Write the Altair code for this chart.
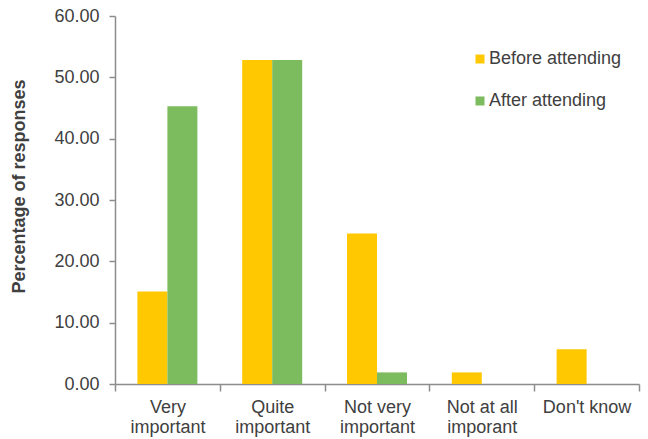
import altair as alt
import pandas as pd

categories = ["Very|important", "Quite|important", "Not very|important", "Not at all|imporant", "Don't know"]
series = ["Before attending", "After attending"]
before = [15.09, 52.83, 24.53, 1.89, 5.66]
after = [45.28, 52.83, 1.89, 0.0, 0.0]
colors = ["#FFC800", "#7CBB5E"]
y_ticks = [0, 10, 20, 30, 40, 50, 60]

rows = []
for c, b, a in zip(categories, before, after):
    rows.append({"category": c, "series": series[0], "value": b})
    rows.append({"category": c, "series": series[1], "value": a})
df = pd.DataFrame(rows)

FONT = "Liberation Sans"
TXT = "#404040"
AX = "#8C8C8C"
FS = 18

chart = alt.Chart(df).mark_bar().encode(
    x=alt.X(
        "category:N",
        sort=categories,
        scale=alt.Scale(paddingInner=0, paddingOuter=0),
        axis=alt.Axis(
            title=None,
            labelAngle=0,
            labelExpr="split(datum.label, '|')",
            labelFont=FONT,
            labelFontSize=FS,
            labelColor=TXT,
            labelBaseline="top",
            labelLineHeight=20,
            labelPadding=7,
            tickBand="extent",
            tickSize=7,
            tickColor=AX,
            domainColor=AX,
            domainWidth=1.5,
            tickWidth=1.5,
        ),
    ),
    xOffset=alt.XOffset(
        "series:N",
        sort=series,
        scale=alt.Scale(paddingInner=0, paddingOuter=0.747),
    ),
    y=alt.Y(
        "value:Q",
        scale=alt.Scale(domain=[0, 60], nice=False),
        axis=alt.Axis(
            values=y_ticks,
            format=".2f",
            grid=False,
            title="Percentage of responses",
            titleFont=FONT,
            titleFontSize=FS,
            titleFontWeight="bold",
            titleColor=TXT,
            titlePadding=25,
            titleY=170,
            labelFont=FONT,
            labelFontSize=FS,
            labelColor=TXT,
            labelPadding=10,
            tickSize=6,
            tickColor=AX,
            domainColor=AX,
            domainWidth=1.5,
            tickWidth=1.5,
        ),
    ),
    color=alt.Color(
        "series:N",
        sort=series,
        scale=alt.Scale(domain=series, range=colors),
        legend=alt.Legend(
            title=None,
            orient="none",
            legendX=356,
            legendY=34,
            symbolType="square",
            symbolSize=81,
            symbolStrokeWidth=0,
            labelFont=FONT,
            labelFontSize=FS,
            labelColor=TXT,
            labelOffset=0,
            rowPadding=24,
        ),
    ),
).properties(
    width=524,
    height=368,
    padding={"left": 115, "top": 16, "right": 9, "bottom": 55},
    autosize="none",
).configure_view(stroke=None)

chart.save("out.html", embed_options={"renderer": "svg", "actions": False})
